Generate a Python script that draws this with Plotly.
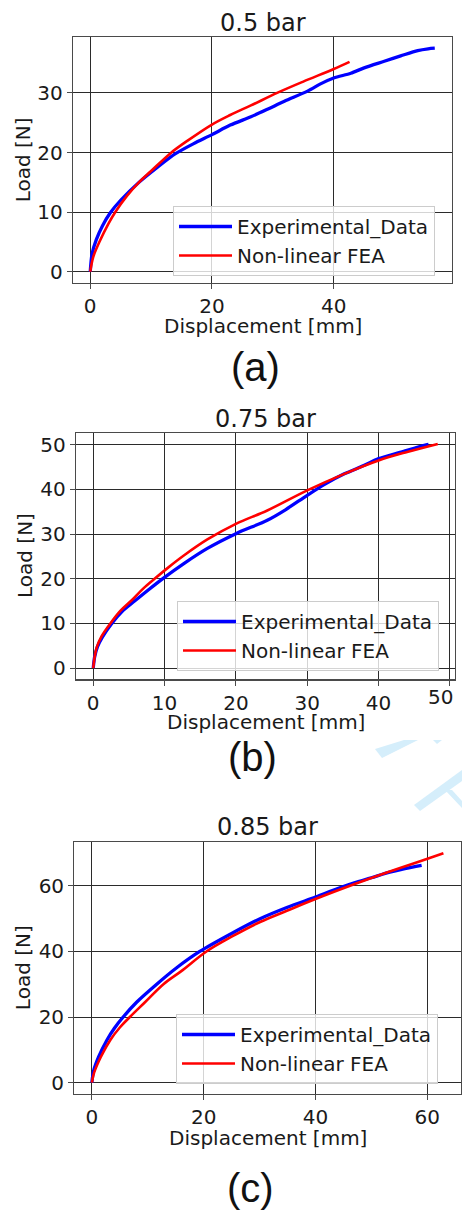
import plotly.graph_objects as go

W, H = 462, 1211

# ---- 0.5 bar ----
exp_a_x = [0, 0.3, 1.0, 2.0, 3.3, 5, 8, 11, 14, 17, 20, 23, 26.4, 29, 31.9, 35.7, 38, 40,
           42.8, 45, 48.3, 51, 53.8, 55.5, 56.6]
exp_a_y = [0, 3.0, 5.4, 7.7, 9.9, 12.0, 15.0, 17.5, 19.8, 21.5, 23.0, 24.6, 26.0, 27.2,
           28.6, 30.3, 31.6, 32.5, 33.3, 34.2, 35.3, 36.2, 37.1, 37.4, 37.5]
fea_a_x = [0, 0.5, 1.5, 3, 4.1, 6, 8, 10, 13.2, 16, 20, 23, 26.4, 30.7, 35, 40, 42.6]
fea_a_y = [0, 2.5, 5.0, 8.1, 10, 12.7, 15, 16.9, 19.9, 22, 24.7, 26.3, 27.9, 30.0, 31.9, 34.0, 35.2]

# ---- 0.75 bar ----
exp_b_x = [0, 0.2, 0.6, 1.3, 2.6, 4, 5.8, 7.8, 9.9, 12.7, 16, 20, 24.4, 27, 30, 32.5, 35.2,
           38, 40, 43, 46.4, 47]
exp_b_y = [0, 2.5, 4.8, 7, 10, 12.6, 15, 17.6, 20.2, 23.4, 26.8, 30.1, 33.1, 35.5, 38.7,
           41.2, 43.5, 45.4, 46.9, 48.3, 49.9, 50.1]
fea_b_x = [0, 0.2, 0.5, 1.2, 2.4, 3.8, 5.4, 7, 8.6, 10.5, 12.7, 16, 20, 24.4, 30, 35.2, 40,
           44, 48.3]
fea_b_y = [0, 2.5, 4.7, 7.2, 10, 12.8, 15.2, 17.8, 20, 22.5, 25.2, 28.8, 32.3, 35.3, 39.8, 43.5,
           46.5, 48.4, 50.2]

# ---- 0.85 bar ----
exp_c_x = [0, 0.3, 1.2, 2.7, 4, 5.6, 8, 11.6, 15, 19.3, 25, 30.1, 35, 40, 44, 47.4, 50,
           53.3, 56, 59]
exp_c_y = [0, 3.5, 7.8, 13, 16.5, 20, 24.5, 30, 34.8, 40, 45.5, 50, 53.5, 56.6, 59.2, 61.2,
           62.5, 64.2, 65.3, 66.3]
fea_c_x = [0, 0.4, 1.6, 3.3, 5, 6.8, 9.5, 12.8, 16, 20.5, 25, 30.1, 35, 40, 47.4, 53.3, 59,
           62.9]
fea_c_y = [0, 3, 7.8, 13, 16.8, 20, 24.5, 30, 34, 40, 44.5, 49, 52.5, 56.0, 60.8, 64.4,
           67.7, 70.0]

titles = ["0.5 bar", "0.75 bar", "0.85 bar"]
tags = ["(a)", "(b)", "(c)"]
series_names = ["Experimental_Data", "Non-linear FEA"]
x_ticks = [[0, 20, 40], [0, 10, 20, 30, 40, 50], [0, 20, 40, 60]]
y_ticks = [[0, 10, 20, 30], [0, 10, 20, 30, 40, 50], [0, 20, 40, 60]]

# layout of each panel, in page pixels
frames = [(73, 37, 452, 283), (76, 432.7, 455, 679.3), (74.3, 841.7, 461, 1094)]
legend_corner = [(173, 206), (177, 601), (176, 1014)]
title_y = [23, 419.3, 826.7]
xlabel_y = [325.5, 721.7, 1137.7]
xtick_label_y = [300, 696.7, 1112]
ylabel_x = [23.3, 25, 23.3]
tag_pos = [(255, 366.5), (252.5, 756.5), (250, 1188)]

data = [((exp_a_x, exp_a_y), (fea_a_x, fea_a_y)),
        ((exp_b_x, exp_b_y), (fea_b_x, fea_b_y)),
        ((exp_c_x, exp_c_y), (fea_c_x, fea_c_y))]


def px(x):
    return x / W


def py(y):
    return 1 - y / H


def padded(values_list):
    lo = min(min(v) for v in values_list)
    hi = max(max(v) for v in values_list)
    pad = 0.05 * (hi - lo)
    return [lo - pad, hi + pad]


FONT = "DejaVu Sans"
TXT = "#1a1a1a"
GRID = "#2b2b2b"
FRAME = "#4a4a4a"

fig = go.Figure()
layout = dict(
    width=W, height=H,
    margin=dict(l=0, r=0, t=0, b=0),
    paper_bgcolor="white", plot_bgcolor="white",
    font=dict(family=FONT, size=20, color=TXT),
    annotations=[], shapes=[],
)

for i in range(3):
    n = "" if i == 0 else str(i + 1)
    xa, ya = "x" + n, "y" + n
    leg = "legend" + n
    (ex, ey), (fx, fy) = data[i]
    fig.add_trace(go.Scatter(x=ex, y=ey, mode="lines", name=series_names[0],
                             line=dict(color="#0000ff", width=3.3, shape="spline",
                                       smoothing=0.8),
                             xaxis=xa, yaxis=ya, legend=leg))
    fig.add_trace(go.Scatter(x=fx, y=fy, mode="lines", name=series_names[1],
                             line=dict(color="#ff0000", width=2.6, shape="spline",
                                       smoothing=1.0),
                             xaxis=xa, yaxis=ya, legend=leg))

    l, t, r, b = frames[i]
    axis_common = dict(
        showgrid=True, gridcolor=GRID, gridwidth=1,
        zeroline=True, zerolinecolor=GRID, zerolinewidth=1,
        showline=True, mirror=True, linecolor=FRAME, linewidth=1.2,
        ticks="outside", ticklen=5, tickwidth=1, tickcolor=FRAME,
        tickfont=dict(family=FONT, size=20, color=TXT),
        fixedrange=True,
    )
    xt = x_ticks[i]
    # the last label of a panel whose last tick sits at the right page edge is
    # written as an annotation nudged inward, so it is not dropped at the border
    edge_label = (r > 454 and len(xt) > 5)
    ticktext = [str(v) for v in xt]
    if edge_label:
        ticktext[-1] = ""
    layout["xaxis" + n] = dict(axis_common, domain=[px(l), px(r)], anchor=ya,
                               range=padded([ex, fx]), tickvals=xt, ticktext=ticktext)
    layout["yaxis" + n] = dict(axis_common, domain=[py(b), py(t)], anchor=xa,
                               range=padded([ey, fy]), tickvals=y_ticks[i])
    if edge_label:
        layout["annotations"].append(
            dict(text=str(xt[-1]), x=xt[-1], xref=xa, y=py(xtick_label_y[i]), yref="paper",
                 showarrow=False, xanchor="center", yanchor="middle", xshift=-9,
                 font=dict(family=FONT, size=20, color=TXT)))

    lx, ly = legend_corner[i]
    layout[leg] = dict(
        x=px(lx), y=py(ly), xanchor="left", yanchor="top",
        xref="paper", yref="paper",
        bgcolor="rgba(255,255,255,0.8)", bordercolor="#cccccc", borderwidth=1,
        font=dict(family=FONT, size=20, color=TXT),
        itemwidth=53, tracegroupgap=0,
    )

    cx = (l + r) / 2
    cy = (t + b) / 2
    layout["annotations"] += [
        dict(text=titles[i], x=px(cx), y=py(title_y[i]), xref="paper", yref="paper",
             showarrow=False, xanchor="center", yanchor="middle",
             font=dict(family=FONT, size=24, color=TXT)),
        dict(text="Displacement [mm]", x=px(cx), y=py(xlabel_y[i]), xref="paper",
             yref="paper", showarrow=False, xanchor="center", yanchor="middle",
             font=dict(family=FONT, size=20, color=TXT)),
        dict(text="Load [N]", x=px(ylabel_x[i]), y=py(cy), xref="paper", yref="paper",
             showarrow=False, xanchor="center", yanchor="middle", textangle=-90,
             font=dict(family=FONT, size=20, color=TXT)),
        dict(text=tags[i], x=px(tag_pos[i][0]), y=py(tag_pos[i][1]), xref="paper",
             yref="paper", showarrow=False, xanchor="center", yanchor="middle",
             font=dict(family="Liberation Sans", size=40, color="#111111")),
    ]


# faint light-blue stamp strokes in the lower right of the middle panel
def poly(points):
    path = "M " + " L ".join(f"{px(x):.4f},{py(y):.4f}" for x, y in points) + " Z"
    return dict(type="path", xref="paper", yref="paper", path=path,
                fillcolor="#d5eefb", line=dict(width=0), layer="below")


layout["shapes"] += [
    poly([(375, 749), (382, 758), (418, 740), (404, 740)]),
    poly([(433, 740), (442, 740), (437, 744)]),
    poly([(414, 805), (420, 811), (462, 781), (462, 770)]),
    poly([(445, 790), (452, 790), (462, 801), (462, 808)]),
]

fig.update_layout(**layout)
fig.write_html("out.html", config={"staticPlot": True})
